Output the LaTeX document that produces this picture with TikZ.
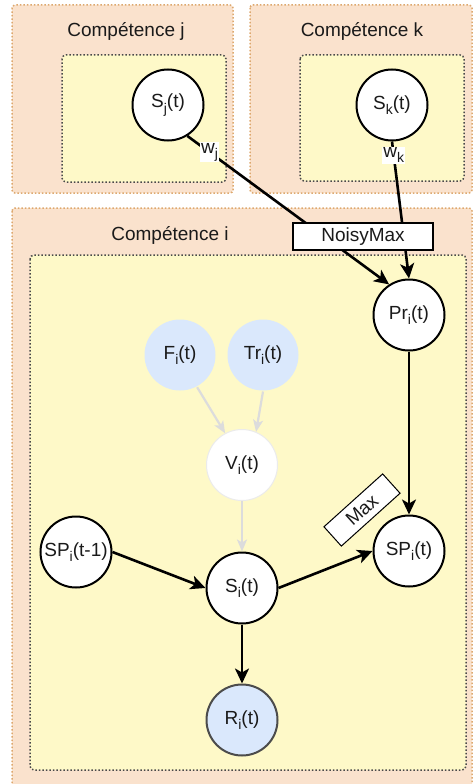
\documentclass[tikz,border=0pt]{standalone}
\usepackage{fontspec}
\setmainfont{Liberation Sans}
\usetikzlibrary{arrows.meta}
\definecolor{orfill}{HTML}{FAE2CD}
\definecolor{ordraw}{HTML}{DDA86E}
\definecolor{yefill}{HTML}{FEF9C8}
\definecolor{yedraw}{HTML}{4A4A4A}
\definecolor{obsfill}{HTML}{DAE8FC}
\definecolor{faint}{HTML}{DCDCDC}
\definecolor{ink}{HTML}{1A1A1A}
% lowered subscript in the running font
\newcommand{\sbi}[1]{\raisebox{-0.28em}{\fontsize{14}{14}\selectfont #1}}

\begin{document}
\begin{tikzpicture}[x=1pt,y=-1pt,
  font=\fontsize{19}{22}\selectfont, text=ink,
  outerbox/.style={draw=ordraw, fill=orfill, line width=1.5pt, dotted, rounded corners=3pt},
  innerbox/.style={draw=yedraw, fill=yefill, line width=1.5pt, dotted, rounded corners=4pt},
  var/.style={circle, draw=black, line width=2pt, fill=white, minimum size=71pt, inner sep=0pt},
  obsvar/.style={var, fill=obsfill, draw=black!70},
  hidvar/.style={var, draw=none, fill=obsfill},
  ghostvar/.style={var, draw=black!8, line width=1pt},
  title/.style={inner sep=0pt},
  arr/.style={line width=2.6pt, draw=black, -{Stealth[length=15pt,width=14pt,inset=4pt]}},
  faintarr/.style={line width=2.2pt, draw=faint, -{Stealth[length=12pt,width=10pt,inset=3pt]}},
  wlabel/.style={fill=white, inner sep=1pt},
  opbox/.style={draw=black, fill=white, line width=1.3pt, inner sep=0pt}
]
\useasboundingbox (0,0) rectangle (474,784);
\clip (0,0) rectangle (474,784);

% plates
\draw[outerbox] (12,5) rectangle (233,193);
\draw[outerbox] (250,5) rectangle (472,193);
\draw[outerbox] (12,208) rectangle (472,800);
\draw[innerbox] (62,55) rectangle (226,182);
\draw[innerbox] (300,55) rectangle (464,181);
\draw[innerbox] (30,255) rectangle (466,770);

\node[title] (tj) at (126,31) {Compétence j};
\node[title] (tk) at (362,31) {Compétence k};
\node[title] (ti) at (170,235) {Compétence i};

% variables
\node[var] (Sj) at (168,105) {S\sbi{j}(t)};
\node[var] (Sk) at (392,105) {S\sbi{k}(t)};
\node[var] (Pr) at (409,315) {Pr\sbi{i}(t)};
\node[hidvar] (F) at (180,355) {F\sbi{i}(t)};
\node[hidvar] (Tr) at (263,355) {Tr\sbi{i}(t)};
\node[ghostvar] (V) at (242,465) {V\sbi{i}(t)};
\node[var] (SPm) at (76,552) {SP\sbi{i}(t-1)};
\node[var] (S) at (242,588) {S\sbi{i}(t)};
\node[var] (SP) at (409,551) {SP\sbi{i}(t)};
\node[obsvar] (R) at (242,720) {R\sbi{i}(t)};

% dependencies
\draw[arr] (Sj.-58) -- node[wlabel, pos=0.11] (wj) {w\sbi{j}} (Pr.123);
\draw[arr] (Sk.south) -- node[wlabel, pos=0.1] (wk) {w\sbi{k}} (Pr.north);
\draw[faintarr] (F.-62) -- (V.118);
\draw[faintarr] (Tr.south) -- (V.67);
\draw[faintarr] (V.south) -- (S.north);
\draw[arr] (Pr.south) -- (SP.north);
\draw[arr] (SPm.east) -- (S.west);
\draw[arr] (S.east) -- (SP.west);
\draw[arr] (S.south) -- (R.north);

% combination operators
\node[opbox, minimum width=140pt, minimum height=27pt] (noisymax) at (363,236.5) {NoisyMax};
\node[opbox, line width=1pt, minimum width=79pt, minimum height=26pt, rotate=42] (max) at (362,510) {Max};
\end{tikzpicture}
\end{document}
